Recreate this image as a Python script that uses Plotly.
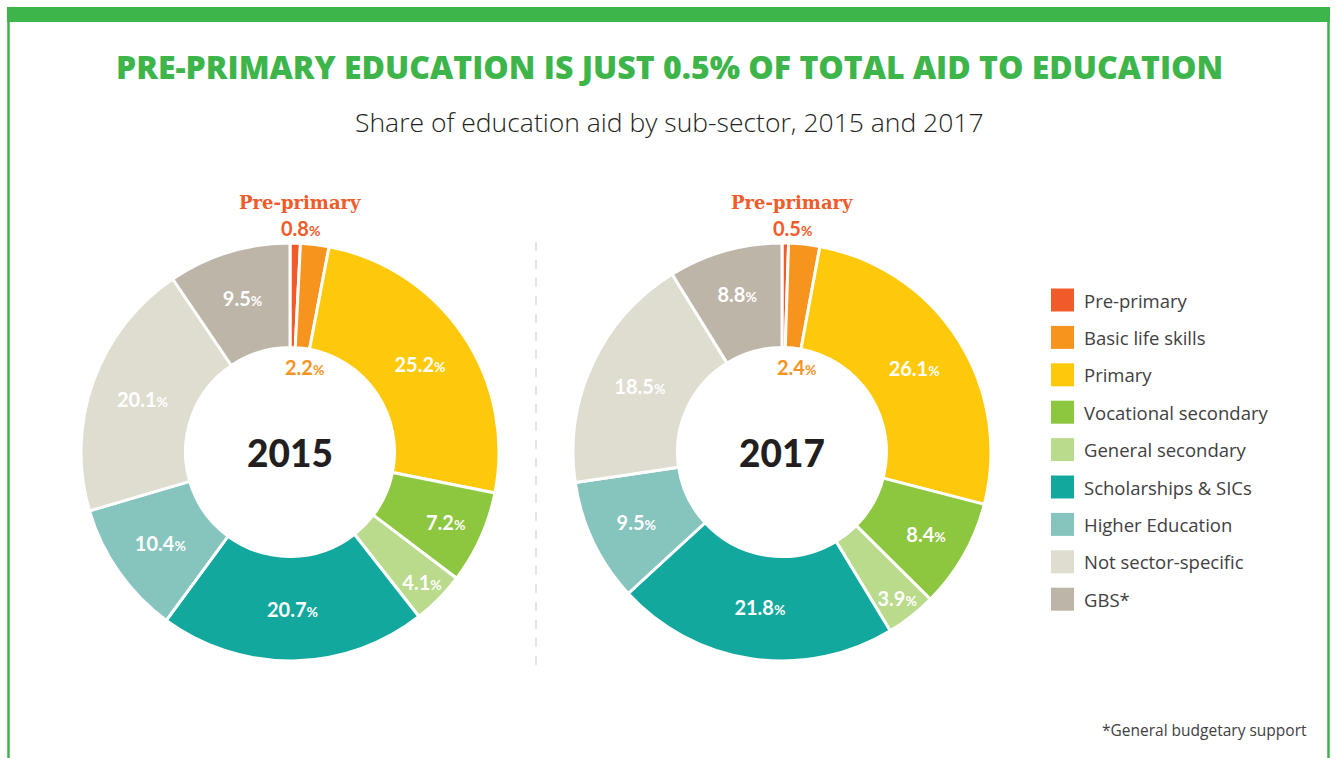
import plotly.graph_objects as go

categories = ["Pre-primary", "Basic life skills", "Primary", "Vocational secondary",
              "General secondary", "Scholarships & SICs", "Higher Education",
              "Not sector-specific", "GBS*"]
share_2015 = [0.8, 2.2, 25.2, 7.2, 4.1, 20.7, 10.4, 20.1, 9.5]
share_2017 = [0.5, 2.4, 26.1, 8.4, 3.9, 21.8, 9.5, 18.5, 8.8]
years = ["2015", "2017"]
colors = ["#F15A29", "#F7941D", "#FFC90B", "#8DC63F", "#BADA8C",
          "#12A89D", "#86C4BE", "#DFDDD0", "#BDB5A7"]

W, H = 1336, 758
GREEN = "#3DB54A"
SANS = "Lato, Open Sans, sans-serif"
SLAB = "DejaVu Serif, serif"


def px(x):
    return x / W


def py(y):
    return 1 - y / H


def pct(v, big, small):
    return f"<span style='font-size:{big}px'>{v}</span><span style='font-size:{small}px'>%</span>"


def note(x, y, text, font, xanchor="center"):
    fig.add_annotation(x=px(x), y=py(y), xref="paper", yref="paper", text=text, showarrow=False,
                       xanchor=xanchor, yanchor="middle", font=font)


fig = go.Figure()
centers = [290, 782]
cy, R = 452, 209
for year, vals, cx in zip(years, [share_2015, share_2017], centers):
    texts = ["" if i < 2 else pct(v, 20, 14) for i, v in enumerate(vals)]
    fig.add_trace(go.Pie(
        labels=categories, values=vals, name=year, sort=False, direction="clockwise",
        rotation=0, hole=0.5, marker=dict(colors=colors, line=dict(color="white", width=3)),
        text=texts, textinfo="text", textposition="inside", insidetextorientation="horizontal",
        insidetextfont=dict(family=SANS, color="white", size=20, weight="bold"),
        hoverinfo="label+value", showlegend=False,
        domain=dict(x=[px(cx - R), px(cx + R)], y=[py(cy + R), py(cy - R)]),
    ))
    # year in the hole
    note(cx, cy, year, dict(family=SANS, size=37, color="#231F20", weight=900))
    # pre-primary callout above the ring
    note(cx + 10, 202, "Pre-primary", dict(family=SLAB, size=18, color="#F15A29", weight=600))
    note(cx + 10, 228, "<b>" + pct(vals[0], 20, 14) + "</b>", dict(family=SANS, size=20, color="#F15A29"))
    # basic life skills label just inside the hole
    note(cx + 14, 367, "<b>" + pct(vals[1], 20, 14) + "</b>", dict(family=SANS, size=20, color="#F7941D"))

fig.update_layout(uniformtext=dict(minsize=20, mode="show"))

# custom legend
for i, (cat, col) in enumerate(zip(categories, colors)):
    yc = 300 + i * 37.4
    fig.add_shape(type="rect", xref="paper", yref="paper", x0=px(1051), x1=px(1074),
                  y0=py(yc - 11.5), y1=py(yc + 11.5), fillcolor=col, line_width=0)
    note(1082, yc, cat, dict(family="Open Sans, sans-serif", size=18.5, color="#414042"), xanchor="left")

# frame and divider
fig.add_shape(type="rect", xref="paper", yref="paper", x0=px(7), x1=px(1330), y0=py(22), y1=py(7),
              fillcolor=GREEN, line_width=0)
fig.add_shape(type="line", xref="paper", yref="paper", x0=px(8.5), x1=px(8.5), y0=0, y1=py(7),
              line=dict(color=GREEN, width=2.5))
fig.add_shape(type="line", xref="paper", yref="paper", x0=px(1328.5), x1=px(1328.5), y0=0, y1=py(7),
              line=dict(color=GREEN, width=2.5))
fig.add_shape(type="line", xref="paper", yref="paper", x0=px(536), x1=px(536), y0=py(665), y1=py(240),
              line=dict(color="#E6E4DE", width=2, dash="dash"))

note(669, 66, "PRE-PRIMARY EDUCATION IS JUST 0.5% OF TOTAL AID TO EDUCATION",
     dict(family="Open Sans, sans-serif", size=32, color=GREEN, weight=800))
note(669, 122, "Share of education aid by sub-sector, 2015 and 2017",
     dict(family="Open Sans, sans-serif", size=26.5, color="#231F20", weight=300))
note(1309, 730, "*General budgetary support",
     dict(family="Open Sans, sans-serif", size=15.5, color="#414042"), xanchor="right")

fig.update_layout(width=W, height=H, margin=dict(l=0, r=0, t=0, b=0),
                  paper_bgcolor="white", plot_bgcolor="white")

fig.write_html("out.html", config={"displayModeBar": False},
               post_script="document.body.style.margin='0';")
